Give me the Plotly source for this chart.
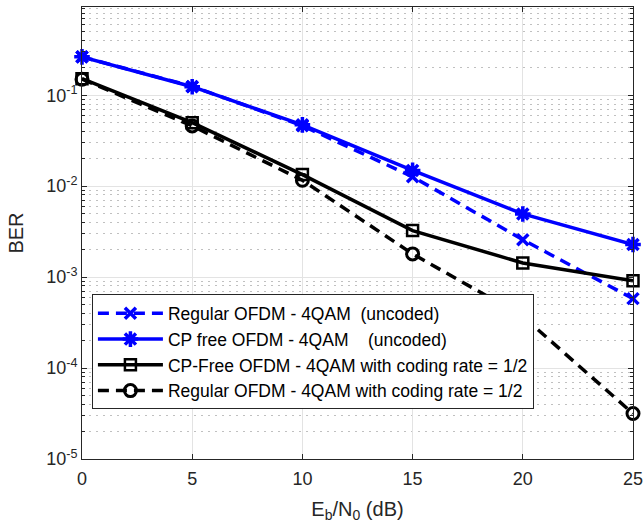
import plotly.graph_objects as go

ebn0 = [0, 5, 10, 15, 20, 25]
ber_regular_uncoded = [0.264, 0.125, 0.0462, 0.0127, 0.00258, 0.00058]
ber_cpfree_uncoded = [0.264, 0.124, 0.0472, 0.0149, 0.00495, 0.00228]
ber_cpfree_coded = [0.152, 0.0499, 0.0134, 0.00325, 0.00143, 0.00091]
ber_regular_coded = [0.150, 0.046, 0.0116, 0.0018, 0.00037, 3.16e-5]

names = [
    "Regular OFDM - 4QAM\u00a0\u00a0(uncoded)",
    "CP free OFDM - 4QAM\u00a0\u00a0\u00a0\u00a0(uncoded)",
    "CP-Free OFDM - 4QAM with coding rate = 1/2",
    "Regular OFDM - 4QAM with coding rate = 1/2",
]
y_tickvals = [1e-5, 1e-4, 1e-3, 1e-2, 1e-1]
y_ticktext = ["10<sup>-5</sup>", "10<sup>-4</sup>", "10<sup>-3</sup>", "10<sup>-2</sup>", "10<sup>-1</sup>"]
x_tickvals = [0, 5, 10, 15, 20, 25]

BLUE = "#0000ff"
BLACK = "#000000"
AX = "#262626"
FONT = "Liberation Sans, Arial, sans-serif"

fig = go.Figure()
fig.add_trace(go.Scatter(
    x=ebn0, y=ber_regular_uncoded, name=names[0], mode="lines+markers", cliponaxis=False,
    line=dict(color=BLUE, width=3.5, dash="11px,7px"),
    marker=dict(symbol="x-thin-open", size=11, color=BLUE, line=dict(color=BLUE, width=3.5)),
))
fig.add_trace(go.Scatter(
    x=ebn0, y=ber_cpfree_uncoded, name=names[1], mode="lines+markers", cliponaxis=False,
    line=dict(color=BLUE, width=3.5),
    marker=dict(symbol="asterisk-open", size=13, color=BLUE, line=dict(color=BLUE, width=3.5)),
))
fig.add_trace(go.Scatter(
    x=ebn0, y=ber_cpfree_coded, name=names[2], mode="lines+markers", cliponaxis=False,
    line=dict(color=BLACK, width=3.5),
    marker=dict(symbol="square-open", size=11, color=BLACK, line=dict(color=BLACK, width=2.5)),
))
fig.add_trace(go.Scatter(
    x=ebn0, y=ber_regular_coded, name=names[3], mode="lines+markers", cliponaxis=False,
    line=dict(color=BLACK, width=3.5, dash="11px,7px"),
    marker=dict(symbol="circle-open", size=12, color=BLACK, line=dict(color=BLACK, width=3)),
))

fig.update_layout(
    width=643, height=527,
    margin=dict(l=82, r=10, t=7, b=68, autoexpand=False),
    paper_bgcolor="white", plot_bgcolor="white",
    font=dict(family=FONT, color=AX, size=18),
    showlegend=True,
    legend=dict(
        x=0.018, y=0.364, xanchor="left", yanchor="top",
        bgcolor="white", bordercolor=AX, borderwidth=1,
        font=dict(family=FONT, size=17.5, color="#000000"),
        itemwidth=65, tracegroupgap=0,
    ),
)
fig.update_xaxes(
    range=[0, 25], tickvals=x_tickvals,
    showline=True, linecolor=AX, linewidth=1, mirror="allticks",
    ticks="inside", ticklen=5, tickcolor=AX,
    showgrid=True, gridcolor="#e3e3e3", gridwidth=1,
    zeroline=False,
    tickfont=dict(size=18, color=AX),
    ticklabelstandoff=3, ticklabeloverflow="allow",
    title=dict(text="E<sub>b</sub>/N<sub>0</sub> (dB)", font=dict(size=20, color=AX), standoff=14),
)
fig.update_yaxes(
    type="log", range=[-5, -0.03],
    tickvals=y_tickvals, ticktext=y_ticktext,
    showline=True, linecolor=AX, linewidth=1, mirror="allticks",
    ticks="inside", ticklen=5, tickcolor=AX,
    showgrid=True, gridcolor="#e3e3e3", gridwidth=1,
    zeroline=False,
    minor=dict(dtick="D1", ticks="inside", ticklen=3, tickcolor=AX,
               showgrid=True, gridcolor="#c0c0c0", griddash="2px,5px", gridwidth=1),
    tickfont=dict(size=18, color=AX),
    ticklabeloverflow="allow",
    title=dict(text="BER", font=dict(size=20, color=AX), standoff=17),
)

fig.write_html(
    "out.html",
    config={"displayModeBar": False},
    post_script="document.body.style.margin='0';document.body.style.overflow='hidden';",
)
